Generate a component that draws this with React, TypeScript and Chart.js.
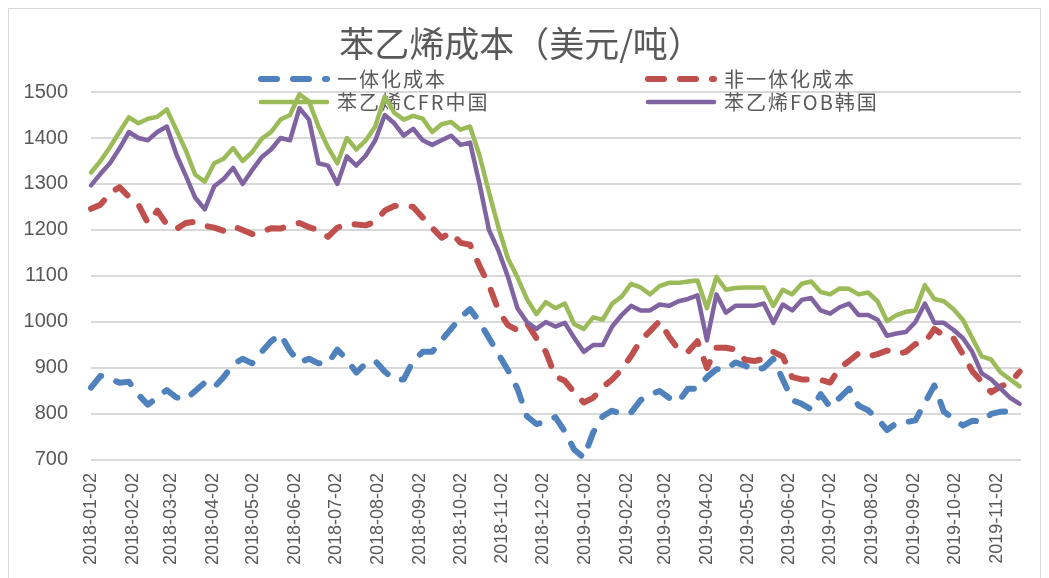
import React, { useEffect, useRef } from 'react';
import { Chart, registerables } from 'chart.js';

Chart.register(...registerables);

const chartTitle = '苯乙烯成本（美元/吨）';
const seriesNames = ['一体化成本', '非一体化成本', '苯乙烯CFR中国', '苯乙烯FOB韩国'];

const tickLabels = [
  '2018-01-02', '2018-02-02', '2018-03-02', '2018-04-02', '2018-05-02', '2018-06-02',
  '2018-07-02', '2018-08-02', '2018-09-02', '2018-10-02', '2018-11-02', '2018-12-02',
  '2019-01-02', '2019-02-02', '2019-03-02', '2019-04-02', '2019-05-02', '2019-06-02',
  '2019-07-02', '2019-08-02', '2019-09-02', '2019-10-02', '2019-11-02',
];

const dates = [
  '2018-01-02', '2018-01-09', '2018-01-16', '2018-01-23', '2018-01-30',
  '2018-02-06', '2018-02-13', '2018-02-20', '2018-02-27',
  '2018-03-06', '2018-03-13', '2018-03-20', '2018-03-27',
  '2018-04-03', '2018-04-10', '2018-04-17', '2018-04-24',
  '2018-05-01', '2018-05-08', '2018-05-15', '2018-05-22', '2018-05-29',
  '2018-06-05', '2018-06-12', '2018-06-19', '2018-06-26',
  '2018-07-03', '2018-07-10', '2018-07-17', '2018-07-24', '2018-07-31',
  '2018-08-07', '2018-08-14', '2018-08-21', '2018-08-28',
  '2018-09-04', '2018-09-11', '2018-09-18', '2018-09-25',
  '2018-10-02', '2018-10-09', '2018-10-16', '2018-10-23', '2018-10-30',
  '2018-11-06', '2018-11-13', '2018-11-20', '2018-11-27',
  '2018-12-04', '2018-12-11', '2018-12-18', '2018-12-25',
  '2019-01-01', '2019-01-08', '2019-01-15', '2019-01-22', '2019-01-29',
  '2019-02-05', '2019-02-12', '2019-02-19', '2019-02-26',
  '2019-03-05', '2019-03-12', '2019-03-19', '2019-03-26',
  '2019-04-02', '2019-04-09', '2019-04-16', '2019-04-23', '2019-04-30',
  '2019-05-07', '2019-05-14', '2019-05-21', '2019-05-28',
  '2019-06-04', '2019-06-11', '2019-06-18', '2019-06-25',
  '2019-07-02', '2019-07-09', '2019-07-16', '2019-07-23', '2019-07-30',
  '2019-08-06', '2019-08-13', '2019-08-20', '2019-08-27',
  '2019-09-03', '2019-09-10', '2019-09-17', '2019-09-24',
  '2019-10-01', '2019-10-08', '2019-10-15', '2019-10-22', '2019-10-29',
  '2019-11-05', '2019-11-12', '2019-11-19',
];

const integratedCost = [
  857, 883, 876, 868, 870, 842, 820, 836, 852, 836,
  832, 850, 868, 858, 880, 908, 920, 910, 935, 958,
  973, 937, 912, 920, 910, 910, 940, 918, 890, 910,
  915, 892, 875, 875, 915, 935, 935, 960, 985, 1010,
  1028, 1000, 965, 930, 895, 855, 795, 778, 783, 793,
  762, 722, 705, 760, 795, 807, 800, 803, 830, 842,
  850, 835, 827, 855, 855, 880, 897, 897, 912, 905,
  895, 900, 920, 875, 830, 822, 810, 843, 815, 835,
  855, 818, 808, 790, 765, 780, 782, 786, 824, 862,
  805, 790, 775, 785, 784, 800, 805, 806, 812,
];

const nonIntegratedCost = [
  1246, 1255, 1280, 1293, 1272, 1255, 1215, 1242, 1212, 1202,
  1215, 1218, 1209, 1205, 1198, 1208, 1200, 1191, 1195, 1204,
  1203, 1210, 1215, 1206, 1200, 1185, 1205, 1213, 1212, 1210,
  1218, 1242, 1252, 1254, 1250, 1227, 1205, 1183, 1195, 1172,
  1168, 1122, 1080, 1025, 993, 982, 998, 965, 935, 882,
  872, 847, 825, 835, 858, 875, 897, 926, 960, 980,
  1002, 968, 940, 935, 958, 900, 944, 944, 940, 918,
  915, 920, 935, 925, 880, 875, 875, 874, 868, 900,
  915, 932, 925, 930, 938, 930, 935, 952, 955, 985,
  970, 965, 930, 893, 870, 847, 860, 868, 892,
];

const cfrChina = [
  1325, 1350, 1380, 1413, 1445, 1432, 1442, 1446, 1462, 1418,
  1373, 1320, 1305, 1345, 1355, 1378, 1350, 1369, 1398, 1413,
  1440, 1450, 1495, 1480, 1425, 1380, 1345, 1400, 1375, 1395,
  1425, 1490, 1455, 1440, 1448, 1442, 1413, 1430, 1435, 1418,
  1425, 1362, 1282, 1205, 1138, 1097, 1050, 1017, 1043, 1030,
  1040, 995, 985, 1010, 1005, 1040, 1055, 1083, 1075, 1060,
  1078, 1085, 1085, 1088, 1090, 1030, 1098, 1070, 1074, 1075,
  1075, 1075, 1035, 1070, 1060, 1083, 1088, 1065, 1060, 1073,
  1072, 1060, 1064, 1045, 1002, 1015, 1022, 1025, 1080, 1050,
  1045, 1028, 1005, 965, 925, 918, 890, 875, 860,
];

const fobKorea = [
  1297, 1322, 1345, 1377, 1413, 1400, 1395, 1413, 1425, 1365,
  1318, 1270, 1245, 1295, 1311, 1335, 1300, 1330, 1358, 1375,
  1400, 1395, 1465, 1440, 1345, 1340, 1300, 1360, 1340, 1362,
  1395, 1450, 1432, 1405, 1420, 1395, 1385, 1395, 1405, 1385,
  1390, 1300, 1200, 1155, 1098, 1030, 1000, 985, 1000, 990,
  998, 965, 935, 950, 950, 990, 1015, 1035, 1025, 1025,
  1038, 1035, 1045, 1050, 1058, 960, 1060, 1020, 1035, 1035,
  1035, 1040, 998, 1038, 1025, 1048, 1052, 1025, 1018, 1032,
  1040, 1015, 1015, 1005, 970, 975, 978, 1000, 1040, 998,
  998, 983, 965, 935, 888, 875, 855, 835, 822,
];

const seriesColors = ['#4F81BD', '#C0504D', '#9BBB59', '#8064A2'];

const dayNum = (s: string) => {
  const [y, m, d] = s.split('-').map(Number);
  return Math.round((Date.UTC(y, m - 1, d) - Date.UTC(2018, 0, 2)) / 86400000);
};

const labelByDay: Record<number, string> = {};
tickLabels.forEach((t) => {
  labelByDay[dayNum(t)] = t;
});

const toPoints = (arr: number[]) => dates.map((d, i) => ({ x: dayNum(d), y: arr[i] }));

const legendPlugin = {
  id: 'excelLegend',
  beforeDatasetsDraw(chart: any) {
    const ctx = chart.ctx as CanvasRenderingContext2D;
    const slots = [
      { i: 0, x: 252, y: 70 },
      { i: 1, x: 639, y: 70 },
      { i: 2, x: 252, y: 93 },
      { i: 3, x: 639, y: 93 },
    ];
    ctx.save();
    slots.forEach(({ i, x, y }) => {
      const ds = chart.data.datasets[i];
      ctx.beginPath();
      ctx.setLineDash(ds.borderDash || []);
      ctx.lineWidth = ds.borderWidth;
      ctx.strokeStyle = ds.borderColor;
      ctx.lineCap = 'round';
      ctx.moveTo(x, y);
      ctx.lineTo(x + 66, y);
      ctx.stroke();
      ctx.setLineDash([]);
      (ctx as any).letterSpacing = '2px';
      ctx.font = '20px "Noto Sans CJK SC"';
      ctx.fillStyle = '#595959';
      ctx.textAlign = 'left';
      ctx.textBaseline = 'middle';
      ctx.fillText(ds.label, x + 76, y);
      (ctx as any).letterSpacing = '0px';
    });
    ctx.restore();
  },
};

export default function App() {
  const canvasRef = useRef<HTMLCanvasElement | null>(null);

  useEffect(() => {
    if (!canvasRef.current) return;
    const dashed = {
      borderWidth: 6,
      borderDash: [16, 16],
      borderCapStyle: 'round' as const,
      borderJoinStyle: 'round' as const,
    };
    const solid = {
      borderWidth: 4.5,
      borderCapStyle: 'round' as const,
      borderJoinStyle: 'round' as const,
    };
    const chart = new Chart(canvasRef.current, {
      type: 'line',
      data: {
        datasets: [
          { label: seriesNames[0], data: toPoints(integratedCost), borderColor: seriesColors[0], ...dashed, order: 3 },
          { label: seriesNames[1], data: toPoints(nonIntegratedCost), borderColor: seriesColors[1], ...dashed, order: 2 },
          { label: seriesNames[2], data: toPoints(cfrChina), borderColor: seriesColors[2], ...solid, order: 1 },
          { label: seriesNames[3], data: toPoints(fobKorea), borderColor: seriesColors[3], ...solid, order: 0 },
        ].map((d) => ({ ...d, pointRadius: 0, tension: 0, fill: false, clip: false as any })),
      },
      options: {
        animation: false,
        responsive: false,
        events: [],
        layout: { padding: { top: 0, left: 12, right: 18, bottom: 8 } },
        plugins: {
          legend: { display: false },
          tooltip: { enabled: false },
          title: {
            display: true,
            text: chartTitle,
            color: '#595959',
            font: { family: '"Noto Sans CJK SC"', size: 35, weight: 'normal' },
            padding: { top: 14, bottom: 27 },
          },
        },
        scales: {
          x: {
            type: 'linear',
            min: 0,
            max: 687,
            afterBuildTicks: (scale: any) => {
              scale.ticks = tickLabels.map((t) => ({ value: dayNum(t) }));
            },
            afterFit: (scale: any) => {
              scale.paddingLeft = 0;
              scale.paddingRight = 0;
            },
            ticks: {
              autoSkip: false,
              maxRotation: 90,
              minRotation: 90,
              padding: 5,
              color: '#595959',
              font: { family: '"Liberation Sans"', size: 18 },
              callback: (v: any) => labelByDay[Math.round(Number(v))] ?? '',
            },
            grid: { display: false },
            border: { display: false },
          },
          y: {
            min: 700,
            max: 1500,
            afterFit: (scale: any) => {
              scale.width = 70;
            },
            ticks: {
              stepSize: 100,
              padding: 23,
              color: '#595959',
              font: { family: '"Liberation Sans"', size: 20 },
              callback: (v: any) => String(v),
            },
            grid: { color: '#d9d9d9', lineWidth: 2, drawTicks: false },
            border: { display: false },
          },
        },
      },
      plugins: [legendPlugin],
    });
    return () => chart.destroy();
  }, []);

  return (
    <div
      style={{
        width: 1031,
        height: 569,
        borderTop: '1px solid #d9d9d9',
        borderLeft: '1px solid #d9d9d9',
        borderRight: '1px solid #d9d9d9',
        background: '#fff',
      }}
    >
      <canvas ref={canvasRef} width={1030} height={569} style={{ display: 'block' }} />
    </div>
  );
}
